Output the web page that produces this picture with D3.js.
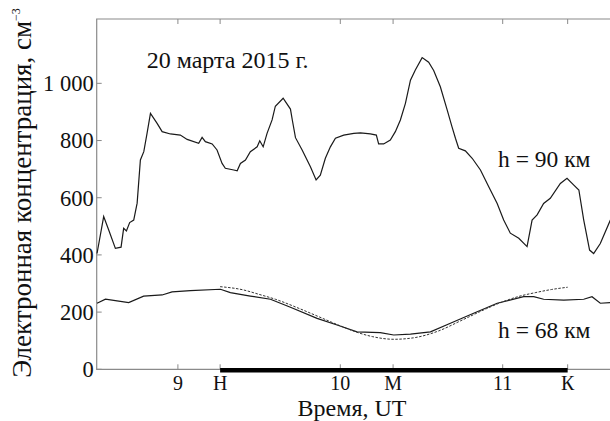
<!DOCTYPE html>
<html>
<head>
<meta charset="utf-8">
<script src="https://cdn.jsdelivr.net/npm/d3@7"></script>
<style>
  body { margin: 0; background: #fff; }
  svg text { font-family: "Liberation Serif", "Times New Roman", Tinos, "DejaVu Serif", serif; fill: #111; }
</style>
</head>
<body>
<div id="chart"></div>
<script>
// size of the picture
const width = 610
const height = 421

// h = 90 km, time in UT hours and electron density
const time90 = [8.502, 8.543, 8.574, 8.615, 8.650, 8.666, 8.683, 8.703, 8.728, 8.749, 8.769, 8.790, 8.810, 8.831,
  8.872, 8.903, 8.954, 9.015, 9.057, 9.128, 9.149, 9.169, 9.211, 9.241, 9.272, 9.292, 9.344, 9.365, 9.385, 9.416,
  9.446, 9.488, 9.504, 9.525, 9.549, 9.580, 9.600, 9.648, 9.693, 9.705, 9.724, 9.765, 9.816, 9.851, 9.877, 9.908,
  9.939, 9.970, 10.021, 10.083, 10.124, 10.185, 10.222, 10.236, 10.267, 10.308, 10.339, 10.370, 10.401, 10.432,
  10.462, 10.504, 10.544, 10.575, 10.616, 10.658, 10.688, 10.709, 10.729, 10.770, 10.812, 10.863, 10.914, 10.966,
  11.006, 11.047, 11.099, 11.150, 11.181, 11.212, 11.252, 11.293, 11.355, 11.396, 11.438, 11.469, 11.499, 11.535,
  11.560, 11.601, 11.663]
const density90 = [405, 534, 487, 423, 427, 493, 484, 513, 522, 581, 732, 761, 825, 895,
  860, 831, 823, 819, 804, 790, 811, 796, 788, 767, 720, 703, 697, 694, 720, 732,
  761, 778, 799, 778, 825, 872, 920, 948, 910, 870, 810, 767, 708, 662, 679, 738,
  778, 808, 819, 825, 827, 823, 819, 788, 788, 802, 831, 872, 930, 1011,
  1047, 1090, 1074, 1045, 988, 907, 848, 808, 773, 764, 738, 697, 638, 580,
  522, 476, 458, 429, 522, 540, 580, 598, 650, 668, 644, 627, 522, 417,
  405, 440, 522]

// h = 68 km
const time68 = [8.502, 8.554, 8.615, 8.697, 8.789, 8.903, 8.964, 9.077, 9.262, 9.323, 9.446, 9.570, 9.693, 9.857,
  9.980, 10.103, 10.246, 10.329, 10.432, 10.555, 10.678, 10.821, 10.966, 11.129, 11.191, 11.252, 11.376, 11.499,
  11.550, 11.601, 11.663]
const density68 = [231, 245, 240, 233, 256, 260, 271, 275, 280, 268, 256, 245, 217, 178,
  155, 131, 128, 120, 123, 131, 161, 196, 231, 254, 254, 245, 242, 245,
  254, 231, 233]

// dashed model curve between H and K
const timeModel = [9.26, 9.4, 9.5, 9.6, 9.75, 9.9, 10.0, 10.1, 10.2, 10.33, 10.45, 10.6, 10.75, 10.9, 11.0, 11.1, 11.2, 11.3, 11.4]
const densityModel = [289, 278, 262, 245, 212, 176, 152, 130, 114, 105, 110, 133, 172, 212, 236, 255, 268, 279, 287]

// ticks and marks
const xTicks = [9, 10, 11]
const yTicks = [0, 200, 400, 600, 800, 1000]
const markTimes = [9.26, 10.325, 11.40]
const markLabels = ["Н", "М", "К"]

const svg = d3.select("#chart")
  .append("svg")
    .attr("width", width)
    .attr("height", height)
    .attr("font-family", "'Liberation Serif', 'Times New Roman', Tinos, 'DejaVu Serif', serif")

const x = d3.scaleLinear()
  .domain([8.5, 12])
  .range([96.7, 96.7 + 3.5 * 162.4])

const y = d3.scaleLinear()
  .domain([0, 1225])
  .range([369.3, 19])

const plotLeft = x(8.5), plotRight = width + 5
const plotTop = y(1225), plotBottom = y(0)

// frame
svg.append("path")
  .attr("d", `M${plotRight},${plotTop}H${plotLeft}V${plotBottom}H${plotRight}`)
  .attr("fill", "none")
  .attr("stroke", "#8a8a8a")
  .attr("stroke-width", 1.2)

// inner ticks on bottom and top
const allX = xTicks.concat(markTimes)
svg.selectAll(".xt-b")
  .data(allX)
  .join("line")
    .attr("x1", d => x(d)).attr("x2", d => x(d))
    .attr("y1", plotBottom).attr("y2", plotBottom - 5)
    .attr("stroke", "#8a8a8a")
svg.selectAll(".xt-t")
  .data(allX)
  .join("line")
    .attr("x1", d => x(d)).attr("x2", d => x(d))
    .attr("y1", plotTop).attr("y2", plotTop + 5)
    .attr("stroke", "#8a8a8a")

// left ticks
svg.selectAll(".yt")
  .data(yTicks)
  .join("line")
    .attr("x1", plotLeft).attr("x2", plotLeft + 5)
    .attr("y1", d => y(d)).attr("y2", d => y(d))
    .attr("stroke", "#8a8a8a")

svg.selectAll(".ytl")
  .data(yTicks)
  .join("text")
    .attr("x", plotLeft - 3)
    .attr("y", d => y(d))
    .attr("dy", "0.35em")
    .attr("text-anchor", "end")
    .attr("font-size", 22.5)
    .text(d => d >= 1000 ? d3.format(",")(d).replace(",", " ") : d)

svg.selectAll(".xtl")
  .data(xTicks)
  .join("text")
    .attr("x", d => x(d))
    .attr("y", 390)
    .attr("text-anchor", "middle")
    .attr("font-size", 20)
    .text(d => d)

svg.selectAll(".mtl")
  .data(markTimes)
  .join("text")
    .attr("x", d => x(d))
    .attr("y", 390)
    .attr("text-anchor", "middle")
    .attr("font-size", 20)
    .text((d, i) => markLabels[i])

// thick bar H..K
svg.append("line")
  .attr("x1", x(markTimes[0])).attr("x2", x(markTimes[2]))
  .attr("y1", plotBottom + 1).attr("y2", plotBottom + 1)
  .attr("stroke", "#000")
  .attr("stroke-width", 4.5)

// lines
const line = d3.line()
  .x(d => x(d[0]))
  .y(d => y(d[1]))

svg.append("path")
  .datum(d3.zip(time90, density90))
  .attr("d", line)
  .attr("fill", "none")
  .attr("stroke", "#1a1a1a")
  .attr("stroke-width", 1.2)

svg.append("path")
  .datum(d3.zip(time68, density68))
  .attr("d", line)
  .attr("fill", "none")
  .attr("stroke", "#1a1a1a")
  .attr("stroke-width", 1.2)

svg.append("path")
  .datum(d3.zip(timeModel, densityModel))
  .attr("d", line.curve(d3.curveMonotoneX))
  .attr("fill", "none")
  .attr("stroke", "#333")
  .attr("stroke-width", 1)
  .attr("stroke-dasharray", "2.5,1.5")

// labels
svg.append("text")
  .attr("x", 146.7).attr("y", 68)
  .attr("font-size", 24)
  .text("20 марта 2015 г.")

svg.append("text")
  .attr("x", 498).attr("y", 167)
  .attr("font-size", 23.5)
  .text("h = 90 км")

svg.append("text")
  .attr("x", 498).attr("y", 338)
  .attr("font-size", 23.5)
  .text("h = 68 км")

svg.append("text")
  .attr("x", 352).attr("y", 415.5)
  .attr("text-anchor", "middle")
  .attr("font-size", 24)
  .text("Время, UT")

const yl = svg.append("text")
  .attr("transform", "translate(31,193) rotate(-90)")
  .attr("text-anchor", "middle")
  .attr("font-size", 27)
yl.append("tspan").text("Электронная концентрация, см")
yl.append("tspan").attr("font-size", 12).attr("dy", -11).text("−3")
</script>
</body>
</html>
